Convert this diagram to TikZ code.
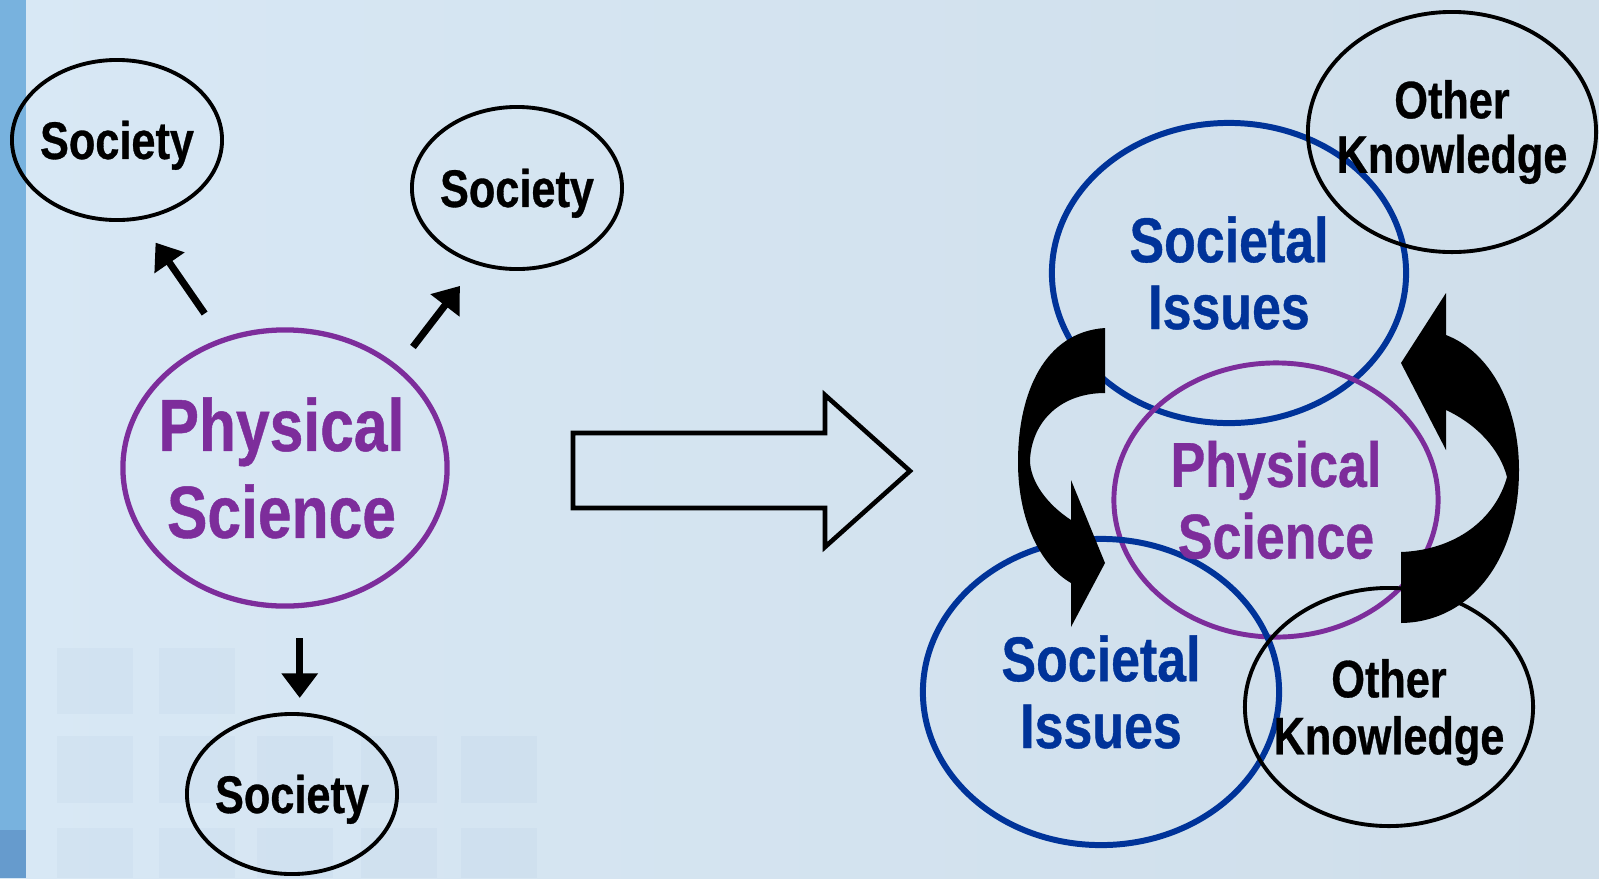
\documentclass[tikz,border=0pt]{standalone}
\usepackage{fontspec}
\usepackage{tikz}
\usetikzlibrary{arrows.meta, shapes.geometric}
\newfontfamily\slidefont[FakeStretch=0.82, FakeBold=0.6]{Liberation Sans}
\definecolor{skyleft}{RGB}{216,232,245}
\definecolor{skymid}{RGB}{226,239,249}
\definecolor{skyright}{RGB}{207,222,234}
\definecolor{strip}{RGB}{120,178,222}
\definecolor{stripdark}{RGB}{102,155,205}
\definecolor{tile}{RGB}{178,202,224}
\definecolor{issueblue}{RGB}{0,51,153}
\definecolor{sciencepurple}{RGB}{125,45,155}

\begin{document}
\begin{tikzpicture}[x=0.01cm, y=-0.01cm,
    societybox/.style={ellipse, draw=black, line width=1.1pt, minimum width=2.10cm, minimum height=1.60cm},
    otherbox/.style={ellipse, draw=black, line width=1.1pt, minimum width=2.88cm, minimum height=2.40cm},
    issuebox/.style={ellipse, draw=issueblue, line width=1.7pt, minimum width=3.54cm, minimum height=3.00cm},
    sciencebox/.style={ellipse, draw=sciencepurple, line width=1.4pt, minimum width=3.24cm, minimum height=2.74cm},
    blacktext/.style={font=\slidefont\bfseries\fontsize{15}{15.5}\selectfont, align=center, inner sep=0pt},
    issuetext/.style={font=\slidefont\bfseries\fontsize{18}{19}\selectfont, text=issueblue, align=center, inner sep=0pt},
    sciencetext/.style={font=\slidefont\bfseries\fontsize{18}{20.4}\selectfont, text=sciencepurple, align=center, inner sep=0pt},
    pointer/.style={-{Triangle[width=10pt, length=7pt]}, line width=2pt}]
    \useasboundingbox (0,0) rectangle (1599,878);
    % background of the slide
    \shade[left color=skyleft, middle color=skymid, right color=skyright] (0,0) rectangle (1599,878);
    \fill[strip] (0,0) rectangle (26,878);
    \fill[stripdark] (0,830) rectangle (26,878);
    \foreach \x in {57,159} {
        \fill[tile, opacity=0.15] (\x,648) rectangle (\x+76,714);
    }
    \foreach \x in {57,159,257,361,461} {
        \fill[tile, opacity=0.15] (\x,736) rectangle (\x+76,803);
        \fill[tile, opacity=0.15] (\x,828) rectangle (\x+76,878);
    }

    % left: science sends out to society
    \node[sciencebox, line width=1.5pt, minimum width=3.24cm, minimum height=2.76cm] (physL) at (285,468) {};
    \node[sciencetext, font=\slidefont\bfseries\fontsize{21}{24.7}\selectfont] (physLtext) at ([xshift=-1pt]physL) {Physical\\Science};
    \node[societybox] (socA) at (117,140) {};
    \node[societybox, minimum height=1.62cm] (socB) at (517,188) {};
    \node[societybox] (socC) at (292,794) {};
    \node[blacktext] (socAtext) at ([yshift=-1.5pt]socA) {Society};
    \node[blacktext] (socBtext) at ([yshift=-1.5pt]socB) {Society};
    \node[blacktext] (socCtext) at ([yshift=-1.5pt]socC) {Society};
    \draw[pointer, shorten <=8.5pt, shorten >=7.8pt] (physL.116) -- (socA.-74);
    \draw[pointer, shorten <=6.8pt, shorten >=7.6pt] (physL.42) -- (socB.-118);
    \draw[pointer, shorten <=8.5pt, shorten >=4pt] (physL.-84) -- (physL.-84 |- socC.north);

    % big hollow arrow in the middle
    \draw[line width=1.3pt, line join=miter] (573,433) -- (825,433) -- (825,395) -- (910,471)
        -- (825,547) -- (825,508) -- (573,508) -- cycle;

    % right: overlapping circles
    \node[issuebox] (issuesT) at (1229,273) {};
    \node[otherbox] (otherT) at (1452,132) {};
    \node[sciencebox] (physR) at (1276,500) {};
    \node[issuebox, minimum width=3.56cm, minimum height=3.06cm] (issuesB) at (1101,692) {};
    \node[otherbox, minimum height=2.38cm] (otherB) at (1389,707) {};
    \node[issuetext] (issuesTtext) at (issuesT) {Societal\\Issues};
    \node[blacktext] (otherTtext) at (otherT) {Other\\Knowledge};
    \node[sciencetext] (physRtext) at (physR) {Physical\\Science};
    \node[issuetext] (issuesBtext) at (issuesB) {Societal\\Issues};
    \node[blacktext, font=\slidefont\bfseries\fontsize{15}{16.2}\selectfont] (otherBtext) at ([yshift=-1.5pt]otherB) {Other\\Knowledge};

    % curved arrows, left one going down
    \fill (1105,328) .. controls (1045,332) and (1018,392) .. (1018,462)
        .. controls (1018,520) and (1040,565) .. (1071,583)
        -- (1071,627) -- (1105,563) -- (1071,480) -- (1071,520)
        .. controls (1048,505) and (1030,482) .. (1030,460)
        .. controls (1032,420) and (1062,393) .. (1105,393) -- cycle;
    % right one going up
    \fill (1446,293) -- (1401,363) -- (1446,450) -- (1446,410)
        .. controls (1478,425) and (1500,450) .. (1507,477)
        .. controls (1495,520) and (1455,550) .. (1401,552)
        -- (1401,623)
        .. controls (1470,622) and (1519,560) .. (1519,470)
        .. controls (1519,405) and (1490,352) .. (1446,335) -- cycle;
\end{tikzpicture}
\end{document}
